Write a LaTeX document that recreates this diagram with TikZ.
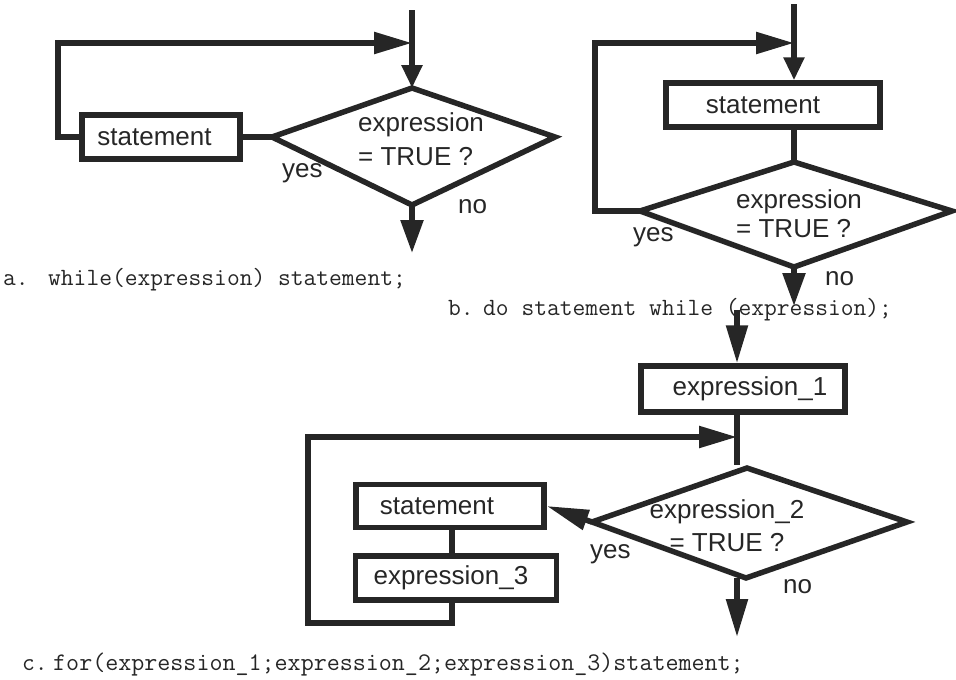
\documentclass[tikz,border=0pt]{standalone}
\usepackage{fontspec}
\setmainfont{Liberation Sans}
\usetikzlibrary{arrows.meta}
\definecolor{ink}{RGB}{38,38,38}
\begin{document}
\begin{tikzpicture}[x=1pt,y=-1pt,
  inkline/.style={draw=ink, line width=5.5pt, line join=miter},
  flow/.style={inkline, -{Triangle[length=38pt,width=21pt]}},
  flowin/.style={inkline, -{Triangle[length=23pt,width=20pt]}},
  flowexit/.style={inkline, -{Triangle[length=33pt,width=22pt]}},
  box/.style={inkline, rectangle, inner sep=0pt, text=ink,
              font=\fontsize{26}{30}\selectfont},
  lbl/.style={inner sep=0pt, text=ink, font=\fontsize{26}{30}\selectfont},
  code/.style={inner sep=0pt, text=ink, anchor=base west,
               font=\fontsize{24.8}{28}\ttfamily},
]
\useasboundingbox (0,0) rectangle (956,680);

% ---------- a. while loop ----------
\coordinate (aTop)  at (412,10);
\coordinate (aJoin) at (412,43);
\coordinate (aT) at (412,88);
\coordinate (aL) at (272,137);
\coordinate (aR) at (555,137);
\coordinate (aB) at (412,205);
\coordinate (aExit) at (412,253);
\coordinate (aC1) at (58,137);
\coordinate (aC2) at (58,43);
\draw[inkline] (aT) -- (aR) -- (aB) -- (aL) -- cycle;
\node[box, minimum width=158pt, minimum height=44pt] (aS) at (161,137)
  {\hspace*{-13pt}statement};
\node[lbl, anchor=base west] (aQ1) at (358,131) {expression};
\node[lbl, anchor=base west] (aQ2) at (358,165) {= TRUE ?};
\node[lbl, anchor=base west] (aYes) at (282,177) {yes};
\node[lbl, anchor=base west] (aNo)  at (458,213) {no};
\draw[flowin] (aTop) -- (aT);
\draw[inkline] (aS.east) -- (aL);
\draw[flow] (aS.west) -- (aC1) -- (aC2) -- (aJoin);
\draw[flowexit] (aB) -- (aExit);
\node[code] (aCapL) at (3,285) {a.};
\node[code] (aCap) at (48,285) {while(expression) statement;};

% ---------- b. do-while loop ----------
\coordinate (bTop)  at (794,4);
\coordinate (bJoin) at (794,43);
\coordinate (bT) at (794,162);
\coordinate (bL) at (640,211);
\coordinate (bR) at (952,211);
\coordinate (bB) at (794,267);
\coordinate (bExit) at (794,306);
\coordinate (bC1) at (595,211);
\coordinate (bC2) at (595,43);
\node[box, minimum width=214pt, minimum height=44pt] (bS) at (773,105)
  {\hspace*{-20pt}statement};
\draw[inkline] (bT) -- (bR) -- (bB) -- (bL) -- cycle;
\node[lbl, anchor=base west] (bQ1) at (736,208) {expression};
\node[lbl, anchor=base west] (bQ2) at (736,237) {= TRUE ?};
\node[lbl, anchor=base west] (bYes) at (633,241) {yes};
\node[lbl, anchor=base west] (bNo)  at (825,285) {no};
\draw[flowin] (bTop) -- (bTop |- bS.north);
\draw[inkline] (bTop |- bS.south) -- (bT);
\draw[flow] (bL) -- (bC1) -- (bC2) -- (bJoin);
\draw[flowexit] (bB) -- (bExit);
\node[code] (bCapL) at (448,315) {b.};
\node[code] (bCap) at (483,315) {do statement while (expression);};

% ---------- c. for loop ----------
\coordinate (cTop)  at (737,310);
\coordinate (cStub) at (737,465);
\coordinate (cJoin) at (737,437);
\coordinate (cT) at (747,468);
\coordinate (cL) at (592,522);
\coordinate (cR) at (907,522);
\coordinate (cB) at (746,578);
\coordinate (cOut) at (737,637);
\coordinate (cDrop) at (452,623);
\coordinate (cC1) at (308,623);
\coordinate (cC2) at (308,437);
\node[box, minimum width=204pt, minimum height=46pt] (cE1) at (743,389)
  {\hspace*{14pt}expression\_1};
\draw[inkline] (cT) -- (cR) -- (cB) -- (cL) -- cycle;
\node[lbl, anchor=base] (cQ1) at (727,518) {expression\_2};
\node[lbl, anchor=base] (cQ2) at (727,551) {= TRUE ?};
\node[lbl, anchor=base west] (cYes) at (590,558) {yes};
\node[lbl, anchor=base west] (cNo)  at (783,593) {no};
\node[box, minimum width=188pt, minimum height=43pt] (cS) at (450,506)
  {\hspace*{-26pt}statement};
\node[box, minimum width=201pt, minimum height=44pt] (cE3) at (456,578)
  {\hspace*{-10pt}expression\_3};
\draw[flow] (cTop) -- (cTop |- cE1.north);
\draw[inkline] (cTop |- cE1.south) -- (cStub);
\draw[flow] (cDrop |- cE3.south) -- (cDrop) -- (cC1) -- (cC2) -- (cJoin);
\draw[inkline] (cDrop |- cS.south) -- (cDrop |- cE3.north);
\draw[inkline, -{Triangle[length=42pt,width=20pt]}] (cL) -- (cS.east);
\draw[flow] (cOut |- cB) -- (cOut);
\node[code] (cCapL) at (22,670) {c.};
\node[code, font=\fontsize{25.3}{28}\ttfamily] (cCap) at (53,670)
  {for(expression\_1;expression\_2;expression\_3)statement;};
\end{tikzpicture}
\end{document}
